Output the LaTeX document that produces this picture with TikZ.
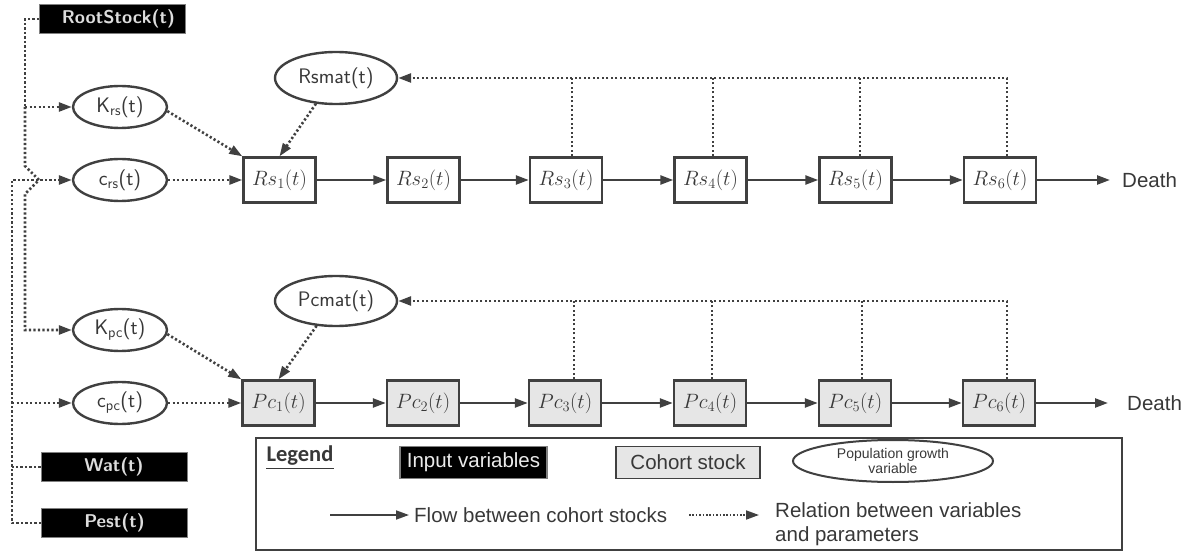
\documentclass[tikz,border=0pt]{standalone}
\usepackage{fontspec}
\newfontfamily\arialf{Liberation Sans}
\newfontfamily\carl{Carlito}
\usetikzlibrary{arrows.meta,shapes.geometric}
\definecolor{dk}{HTML}{404040}
\definecolor{tx}{HTML}{383838}
\definecolor{cg}{HTML}{E6E6E6}
\definecolor{lg}{HTML}{DDDDDD}
\tikzset{
  >={Triangle[length=13pt,width=9pt]},
  flow/.style={draw=dk, line width=2.4pt, ->},
  rel/.style={draw=dk, line width=2.6pt, dash pattern=on 2.2pt off 2.3pt, ->},
  relnt/.style={draw=dk, line width=2.6pt, dash pattern=on 2.2pt off 2.3pt},
  stock/.style={draw=dk, line width=2.4pt, fill=white, minimum width=72pt, minimum height=45pt, inner sep=0pt, text=tx, font=\fontsize{21}{25}\selectfont},
  pstock/.style={stock, fill=cg},
  var/.style={ellipse, draw=dk, line width=2.4pt, fill=white, minimum width=94pt, minimum height=42pt, inner sep=0pt, text=tx, font=\sffamily\fontsize{21}{25}\selectfont},
  inp/.style={fill=black, draw=gray, line width=1pt, minimum width=146pt, minimum height=29pt, inner sep=0pt, text=lg, font=\sffamily\bfseries\fontsize{18.5}{21}\selectfont},
  deathn/.style={anchor=west, inner ysep=0pt, text=tx, font=\arialf\fontsize{20.5}{24}\selectfont},
  legtxt/.style={text=tx, font=\arialf\fontsize{20.5}{24}\selectfont},
}
\begin{document}
\begin{tikzpicture}[x=1pt,y=-1pt]
\useasboundingbox (0,0) rectangle (1191,553);
% input variables
\node[inp] (root) at (112.5,19) {\hspace*{12pt}RootStock(t)};
\node[inp] (wat) at (114,467) {Wat(t)};
\node[inp] (pest) at (114.5,523) {Pest(t)};
% growth variables
\node[var] (krs) at (120,107) {K\textsubscript{rs}(t)};
\node[var] (crs) at (120,180) {c\textsubscript{rs}(t)};
\node[var] (kpc) at (120,330) {K\textsubscript{pc}(t)};
\node[var] (cpc) at (120,403) {c\textsubscript{pc}(t)};
\node[var, minimum width=122pt, minimum height=52pt] (rsmat) at (336,78) {Rsmat(t)};
\node[var, minimum width=122pt, minimum height=50pt] (pcmat) at (336,301) {Pcmat(t)};
% stocks
\node[stock] (rs1) at (279.5,180) {$Rs_1(t)$};
\node[stock] (rs2) at (423.5,180) {$Rs_2(t)$};
\node[stock] (rs3) at (566,180) {$Rs_3(t)$};
\node[stock] (rs4) at (710.5,180) {$Rs_4(t)$};
\node[stock] (rs5) at (855.5,180) {$Rs_5(t)$};
\node[stock] (rs6) at (1000,180) {$Rs_6(t)$};
\node[pstock] (pc1) at (278.5,403) {$Pc_1(t)$};
\node[pstock] (pc2) at (423,403) {$Pc_2(t)$};
\node[pstock] (pc3) at (565,403) {$Pc_3(t)$};
\node[pstock] (pc4) at (710,403) {$Pc_4(t)$};
\node[pstock] (pc5) at (855,403) {$Pc_5(t)$};
\node[pstock] (pc6) at (999,403) {$Pc_6(t)$};
\node[deathn, inner xsep=12pt] (d1) at (1110,180) {Death};
\node[deathn, inner xsep=19pt] (d2) at (1108,403) {Death};
% flows
\draw[flow] (rs1) -- (rs2);
\draw[flow] (rs2) -- (rs3);
\draw[flow] (rs3) -- (rs4);
\draw[flow] (rs4) -- (rs5);
\draw[flow] (rs5) -- (rs6);
\draw[flow] (rs6) -- (d1);
\draw[flow] (pc1) -- (pc2);
\draw[flow] (pc2) -- (pc3);
\draw[flow] (pc3) -- (pc4);
\draw[flow] (pc4) -- (pc5);
\draw[flow] (pc5) -- (pc6);
\draw[flow] (pc6) -- (d2);
% feedback to maturation variables
\draw[rel] ([xshift=7pt]rs6.north) |- (rsmat.east);
\draw[relnt] ([xshift=6pt]rs3.north) -- ([xshift=6pt]rs3.north |- rsmat.east);
\draw[relnt] ([xshift=2.5pt]rs4.north) -- ([xshift=2.5pt]rs4.north |- rsmat.east);
\draw[relnt] ([xshift=4.5pt]rs5.north) -- ([xshift=4.5pt]rs5.north |- rsmat.east);
\draw[rel] ([xshift=8pt]pc6.north) |- (pcmat.east);
\draw[relnt] ([xshift=9pt]pc3.north) -- ([xshift=9pt]pc3.north |- pcmat.east);
\draw[relnt] ([xshift=2pt]pc4.north) -- ([xshift=2pt]pc4.north |- pcmat.east);
\draw[relnt] ([xshift=7pt]pc5.north) -- ([xshift=7pt]pc5.north |- pcmat.east);
% inputs to first stocks
\draw[rel] (rsmat.232) -- (rs1.north);
\draw[rel] (krs.-5) -- (rs1.north west);
\draw[rel] (crs) -- (rs1);
\draw[rel] (pcmat.232) -- (pc1.north);
\draw[rel] (kpc.-5) -- (pc1.north west);
\draw[rel] (cpc) -- (pc1);
% left-hand wiring
\coordinate (vL) at (25,0);
\coordinate (vO) at (12,0);
\coordinate (h1) at (25,166);
\coordinate (h2) at (39,180);
\coordinate (h3) at (25,194);
\draw[relnt] (root.west) -| (vL |- krs.west);
\draw[rel] (vL |- krs.west) -- (krs.west);
\draw[rel] (vL |- krs.west) -- (h1) -- (h2) -- (h3) -- (vL |- kpc.west) -- (kpc.west);
\draw[rel] (pest.west) -| (vO |- crs.west) -- (crs.west);
\draw[rel] (vO |- cpc.west) -- (cpc.west);
\draw[relnt] (wat.west) -- (vO |- wat.west);
% legend
\node[draw=dk, line width=1.8pt, minimum width=866pt, minimum height=112pt, anchor=north west, inner sep=0pt] (leg) at (255,437) {};
\node[text=tx, inner sep=0pt, font=\carl\bfseries\fontsize{22.5}{26}\selectfont] (legt) at (300,456) {Legend};
\draw[tx, line width=1pt] ([yshift=-2pt]legt.south west) -- ([yshift=-2pt]legt.south east);
\node[legtxt, draw=gray, fill=black, line width=1.5pt, minimum width=147pt, minimum height=32pt, inner sep=0pt, text=white!92!black] (li) at (473.5,462.5) {Input variables};
\node[legtxt, draw=dk, fill=cg, line width=1.8pt, minimum width=144pt, minimum height=32pt, inner sep=0pt] (lc) at (688,462.5) {Cohort stock};
\node[ellipse, draw=dk, line width=2pt, minimum width=200pt, minimum height=42pt, inner sep=0pt, align=center, text=tx, font=\arialf\fontsize{14}{13}\selectfont] (lp) at (893,461) {Population growth\\variable};
\coordinate (fa) at (330,515);
\node[legtxt, anchor=west, inner xsep=5pt, inner ysep=0pt] (lf) at (409,515) {Flow between cohort stocks};
\draw[draw=dk, line width=1.8pt, ->] (fa) -- (lf.west);
\coordinate (ra) at (689,515);
\node[legtxt, anchor=west, inner xsep=16pt, inner ysep=0pt, align=left] (lr) at (759,524) {Relation between variables\\and parameters};
\draw[draw=dk, line width=1.8pt, dash pattern=on 1.6pt off 1.8pt, ->] (ra) -- (ra -| lr.west);
\end{tikzpicture}
\end{document}
